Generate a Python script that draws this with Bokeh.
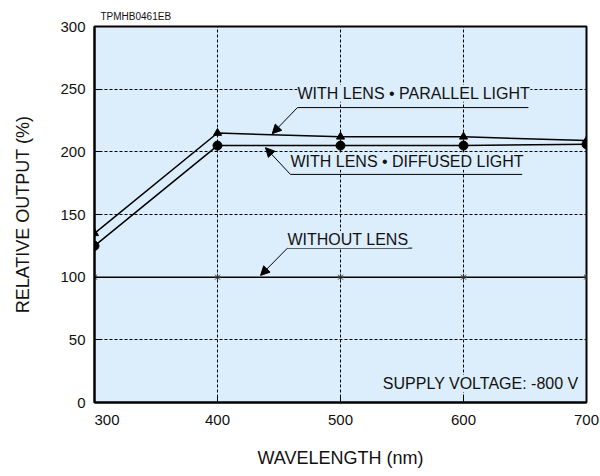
from bokeh.plotting import figure
from bokeh.models import Range1d, Label, Arrow, NormalHead, FixedTicker
from bokeh.embed import file_html
from bokeh.resources import INLINE

# ---- data ----
wavelength = [300, 400, 500, 600, 700]
parallel = [135, 215, 212, 212, 209]
diffused = [125, 205, 205, 205, 206]
without_lens = [100, 100, 100, 100, 100]
x_ticks = [300, 400, 500, 600, 700]
y_ticks = [0, 50, 100, 150, 200, 250, 300]

BG = "#DCEEFB"
FONT = "Liberation Sans"

p = figure(width=600, height=476, output_backend="svg", toolbar_location=None,
           x_range=Range1d(300, 700), y_range=Range1d(0, 300),
           min_border_left=94, min_border_top=26, min_border_right=14, min_border_bottom=74)
p.background_fill_color = BG
p.border_fill_color = "white"
p.outline_line_color = "black"
p.outline_line_width = 2

p.title.text = "TPMHB0461EB"
p.title.text_font = FONT
p.title.text_font_size = "10px"
p.title.text_font_style = "normal"
p.title.text_color = "#111111"
p.title.align = "left"
p.title.offset = 6
p.title.standoff = 9

for ax in (p.xaxis[0], p.yaxis[0]):
    ax.axis_line_width = 2
    ax.major_tick_in = 6
    ax.major_tick_out = 0
    ax.minor_tick_line_color = None
    ax.major_label_text_font = FONT
    ax.major_label_text_font_size = "15px"
    ax.major_label_text_color = "#111111"
    ax.axis_label_text_font = FONT
    ax.axis_label_text_font_size = "18px"
    ax.axis_label_text_font_style = "normal"
    ax.axis_label_text_color = "#111111"

p.xaxis.ticker = FixedTicker(ticks=x_ticks)
p.yaxis.ticker = FixedTicker(ticks=y_ticks)
# the first wavelength label sits just right of the axis corner
p.xaxis.major_label_overrides = {300: "\u2007\u2007\u2007300"}
p.xaxis.major_label_standoff = 8
p.yaxis.major_label_standoff = 9
p.xaxis.axis_label = "WAVELENGTH (nm)"
p.yaxis.axis_label = "RELATIVE OUTPUT (%)"
p.xaxis.axis_label_standoff = 17
p.yaxis.axis_label_standoff = 24

for g in (p.xgrid[0], p.ygrid[0]):
    g.grid_line_color = "black"
    g.grid_line_dash = "3 2"
    g.grid_line_width = 1
p.xgrid.ticker = FixedTicker(ticks=x_ticks)
p.ygrid.ticker = FixedTicker(ticks=y_ticks)

# series
p.line(wavelength, without_lens, line_color="black", line_width=1.5)
p.scatter(wavelength, without_lens, marker="asterisk", size=7, line_color="#333333", line_width=1)
p.line(wavelength, parallel, line_color="black", line_width=1.5)
p.scatter(wavelength, parallel, marker="triangle", size=8, fill_color="black", line_color="black")
p.line(wavelength, diffused, line_color="black", line_width=1.5)
p.scatter(wavelength, diffused, marker="circle", size=9, fill_color="black", line_color="black")

def callout(text, tx, ty, ux_end, uy, ax, ay):
    p.add_layout(Label(x=tx, y=ty, text=text, text_align="left", text_baseline="middle",
                       text_font=FONT, text_font_size="16px", text_color="#111111",
                       background_fill_color=BG))
    p.segment(x0=[tx], y0=[uy], x1=[ux_end], y1=[uy], line_color="black", line_width=1)
    p.add_layout(Arrow(x_start=tx, y_start=uy, x_end=ax, y_end=ay, line_width=1,
                       end=NormalHead(size=9, fill_color="black", line_color="black")))

callout("WITH LENS \u2022 PARALLEL LIGHT", 465, 246.7, 652.8, 235.3, 444.5, 214.5)
callout("WITH LENS \u2022 DIFFUSED LIGHT", 459.3, 192.4, 647.7, 182, 439, 203.3)
callout("WITHOUT LENS", 456.9, 130.1, 558.3, 123.2, 435, 101.4)

p.add_layout(Label(x=700, y=15.2, text="SUPPLY VOLTAGE: -800 V", x_offset=-8,
                   text_align="right", text_baseline="middle", text_font=FONT,
                   text_font_size="16px", text_color="#111111",
                   background_fill_color=BG))

open("out.html", "w").write(file_html(p, INLINE))
